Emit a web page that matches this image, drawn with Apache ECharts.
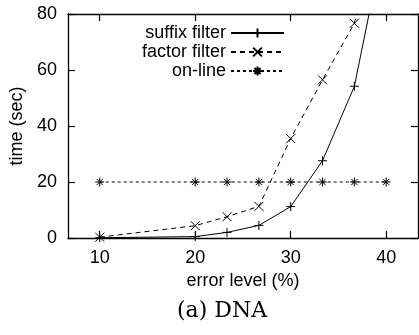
<!DOCTYPE html>
<html>
<head>
<meta charset="utf-8">
<script src="https://cdn.jsdelivr.net/npm/echarts@6/dist/echarts.min.js"></script>
<style>
  html, body { margin: 0; padding: 0; background: #fff; }
  #chart { width: 419px; height: 335px; }
</style>
</head>
<body>
<div id="chart"></div>
<script>
// error level (%) at which each run was measured
const errorLevels = [10, 20, 23.33, 26.67, 30, 33.33, 36.67, 40];
// time (sec) per method
const suffixFilter = [0.1, 0.5, 2.0, 4.5, 11.2, 27.6, 54.2, 110];
const factorFilter = [0.3, 4.4, 7.6, 11.3, 35.5, 56.5, 76.7, 120];
const onLine = [20, 20, 20, 20, 20, 20, 20, 20];
const xTicks = [10, 20, 30, 40];
const seriesNames = ['suffix filter', 'factor filter', 'on-line'];

const FONT = '"Liberation Sans", Arial, sans-serif';
const plus = 'path://M0,5L10,5M5,0L5,10';
const cross = 'path://M0,0L10,10M0,10L10,0';
const star = 'path://M0,5L10,5M5,0L5,10M1.5,1.5L8.5,8.5M1.5,8.5L8.5,1.5';

const pairs = (ys) => errorLevels.map((x, i) => [x, ys[i]]);

const axisLine = { show: true, onZero: false, lineStyle: { color: '#000', width: 1.3 } };
const tickStyle = { inside: true, length: 7, lineStyle: { color: '#000', width: 1.2 } };

const mkSeries = (name, data, symbol, dash) => ({
  name: name,
  type: 'line',
  data: pairs(data),
  symbol: symbol,
  symbolSize: 9,
  showSymbol: true,
  clip: true,
  animation: false,
  color: '#000',
  lineStyle: { color: '#000', width: 1, type: dash },
  itemStyle: { color: '#000', borderColor: '#000', borderWidth: 1 },
  emphasis: { disabled: true },
});

const chart = echarts.init(document.getElementById('chart'));
chart.setOption({
  animation: false,
  backgroundColor: '#fff',
  textStyle: { fontFamily: FONT, color: '#000' },
  grid: { left: 63, right: 1, top: 14, bottom: 97, containLabel: false },
  legend: {
    data: seriesNames,
    orient: 'vertical',
    align: 'right',
    right: 129,
    top: 19,
    itemWidth: 53,
    itemHeight: 11,
    itemGap: 1,
    textStyle: { fontFamily: FONT, fontSize: 18, color: '#000', lineHeight: 18 },
    selectedMode: false,
  },
  xAxis: [
    {
      type: 'value',
      position: 'bottom',
      min: 20 / 3,
      max: 130 / 3,
      name: 'error level (%)',
      nameLocation: 'middle',
      nameGap: 32,
      nameTextStyle: { fontFamily: FONT, fontSize: 18, color: '#000' },
      axisLine: axisLine,
      axisTick: Object.assign({ customValues: xTicks }, tickStyle),
      axisLabel: { customValues: xTicks, margin: 11, fontSize: 18, color: '#000', fontFamily: FONT },
      splitLine: { show: false },
    },
    {
      type: 'value',
      position: 'top',
      min: 20 / 3,
      max: 130 / 3,
      axisLine: axisLine,
      axisTick: Object.assign({ customValues: xTicks }, tickStyle),
      axisLabel: { show: false },
      splitLine: { show: false },
    },
  ],
  yAxis: [
    {
      type: 'value',
      position: 'left',
      min: 0,
      max: 80,
      interval: 20,
      name: 'time (sec)',
      nameLocation: 'middle',
      nameGap: 38,
      nameTextStyle: { fontFamily: FONT, fontSize: 18, color: '#000' },
      axisLine: axisLine,
      axisTick: tickStyle,
      axisLabel: { margin: 11, fontSize: 18, color: '#000', fontFamily: FONT },
      splitLine: { show: false },
    },
    {
      type: 'value',
      position: 'right',
      min: 0,
      max: 80,
      interval: 20,
      axisLine: axisLine,
      axisTick: tickStyle,
      axisLabel: { show: false },
      splitLine: { show: false },
    },
  ],
  graphic: [
    {
      type: 'text',
      left: 177,
      top: 300,
      style: { text: '(a) DNA', font: '22px "DejaVu Serif", serif', fill: '#000' },
    },
  ],
  series: [
    mkSeries(seriesNames[0], suffixFilter, plus, 'solid'),
    mkSeries(seriesNames[1], factorFilter, cross, [5, 4]),
    mkSeries(seriesNames[2], onLine, star, [3, 3]),
  ],
});
</script>
</body>
</html>
